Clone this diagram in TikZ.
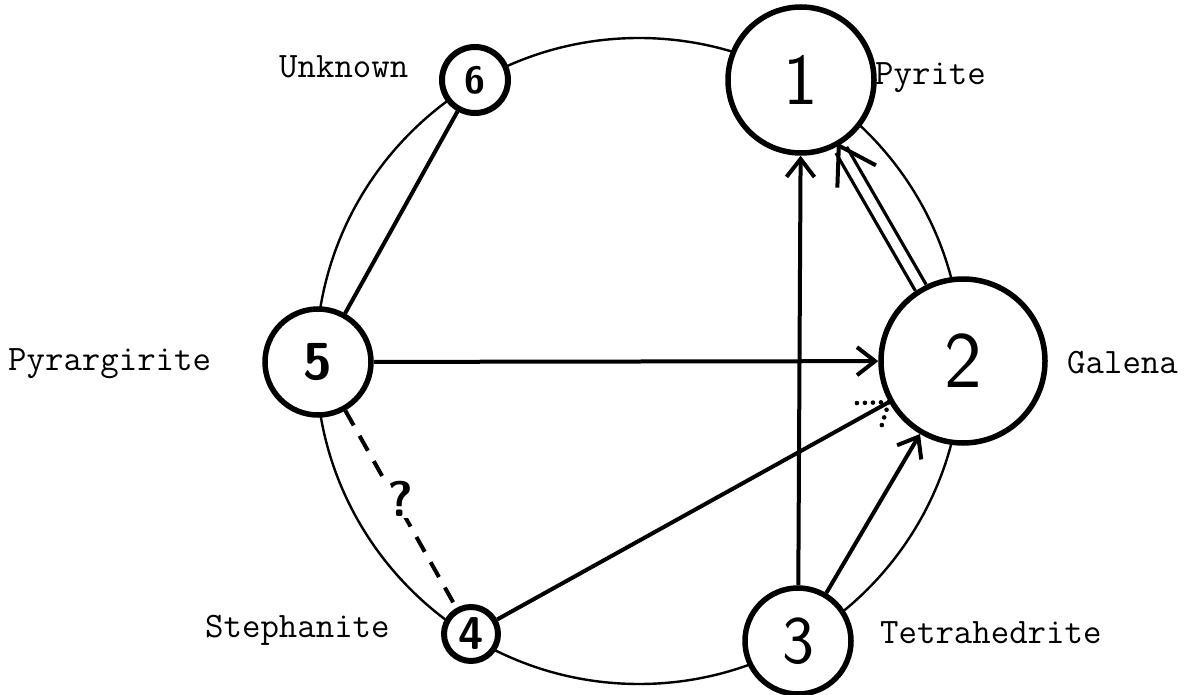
\documentclass[tikz,border=0pt]{standalone}
\usepackage{fontspec}
\usetikzlibrary{arrows.meta,calc}
\begin{document}
\begin{tikzpicture}[x=1pt,y=-1pt,
  mineral/.style={circle,draw,fill=white,inner sep=0pt,line width=5.5pt},
  lbl/.style={anchor=base west,inner sep=0pt,font=\fontsize{35.8}{40}\selectfont\ttfamily},
  conn/.style={line width=4pt},
  arr/.style={conn,-{Straight Barb[length=18pt,width=28pt,line width=4pt]}},
  ring/.style={line width=2.4pt},
  dotbarb/.style={line width=4.6pt,line cap=round,dash pattern=on 0pt off 8pt},
  dashlink/.style={conn,dash pattern=on 17pt off 12pt},
  dbl/.style={line width=3.3pt,double=white,double distance=9pt}
]
\useasboundingbox (0,0) rectangle (1191,695);
\coordinate (c) at (639,361);
\draw[ring] (c) circle[radius=323pt];

\node[mineral,minimum size=146pt,font=\fontsize{73}{73}\selectfont\sffamily] (n1) at (801,80) {1};
\node[mineral,minimum size=164pt,font=\fontsize{80}{80}\selectfont\sffamily] (n2) at (963,361) {2};
\node[mineral,minimum size=106pt,font=\fontsize{68}{68}\selectfont\sffamily] (n3) at (798,641) {3};
\node[mineral,minimum size=54pt,line width=6pt,font=\fontsize{46}{46}\selectfont\bfseries\sffamily] (n4) at (471,634) {4};
\node[mineral,minimum size=106pt,font=\fontsize{52}{52}\selectfont\bfseries\sffamily] (n5) at (318,362) {5};
\node[mineral,minimum size=66pt,line width=6pt,font=\fontsize{38}{38}\selectfont\bfseries\sffamily] (n6) at (475,80) {6};

\node[lbl] (l1) at (875,85) {Pyrite};
\node[lbl] (l2) at (1067,373) {Galena};
\node[lbl] (l3) at (880,643) {Tetrahedrite};
\node[lbl] (l4) at (205,637) {Stephanite};
\node[lbl] (l5) at (8,370) {Pyrargirite};
\node[lbl] (l6) at (279,78) {Unknown};

\draw[arr] (n3) -- (n1);
\draw[arr] (n5) -- (n2);
\draw[arr] (n3) -- (n2);
\draw[conn] (n6) -- (n5);
\draw[conn] (n4) -- coordinate[pos=1] (t42) (n2);
\draw[dotbarb] (t42) -- ++(-34,1);
\draw[dotbarb] (t42) -- ++(-8,26);
\draw[dashlink] (n5) -- node[pos=0.45,xshift=5pt,fill=white,inner sep=1pt,font=\fontsize{50}{50}\selectfont\bfseries\sffamily] (q) {?} (n4);
\path (n2) -- coordinate[pos=1] (t21) (n1);
\draw[dbl,shorten >=5pt] (n2) -- (n1);
\draw[conn,line join=miter] ($(t21)!42pt!32:(n2)$) -- (t21) -- ($(t21)!42pt!-32:(n2)$);
\end{tikzpicture}
\end{document}
